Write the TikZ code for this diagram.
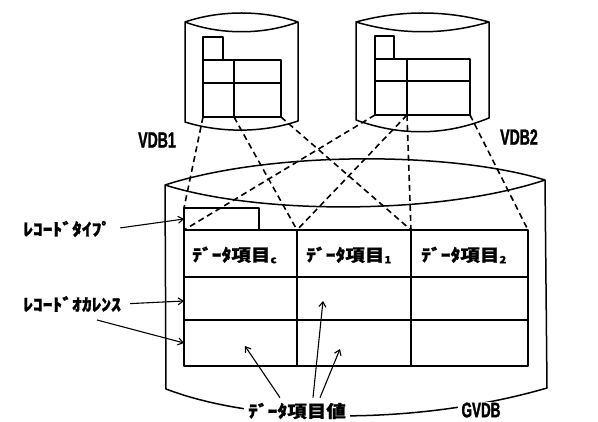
\documentclass[tikz,border=0pt]{standalone}
\usepackage{fontspec}
\newfontfamily\jpfont{Noto Sans CJK JP}[FakeStretch=1.15, FakeBold=1]
\newfontfamily\enfont{Liberation Sans}[FakeStretch=0.64, FakeBold=1.5]
\newcommand\sbs[1]{\raisebox{-2pt}{\fontsize{10}{10}\selectfont #1}}
\usetikzlibrary{arrows.meta}

\begin{document}
\begin{tikzpicture}[x=1pt, y=-1pt,
		db/.style = {line width=1.5pt, line join=round},
		ln/.style = {line width=1.6pt, dash pattern=on 6pt off 4pt},
		ar/.style = {-{Straight Barb[length=5pt, width=7pt]}, line width=1.1pt},
		jp/.style = {font=\jpfont\bfseries\fontsize{17}{17}\selectfont, inner sep=1pt},
		en/.style = {font=\enfont\bfseries\fontsize{22}{22}\selectfont, inner sep=1pt}
		]
		\useasboundingbox (0,0) rectangle (598,422);
		
		%Cylinders
		\draw[db]	(185,22) .. controls (220,10) and (263,10) .. (298,22)
					.. controls (263,35) and (220,35) .. (185,22) -- (185,122)
					.. controls (220,133) and (263,133) .. (298,121) -- (298,22);
		\draw[db]	(356,22) .. controls (400,10) and (445,10) .. (489,22)
					.. controls (445,35) and (400,35) .. (356,22) -- (356,120)
					.. controls (400,136) and (445,136) .. (489,118) -- (489,22);
		\draw[db]	(165,185) .. controls (270,151) and (450,151) .. (545,180)
					.. controls (440,215) and (260,215) .. (165,185) -- (166,389)
					.. controls (260,425) and (420,425) .. (547,388) -- (545,180);
		
		%Tables
		\draw[db]	(203,37) rectangle (223,60);
		\draw[db]	(203,60) rectangle (281,117);
		\draw[db]	(203,83) -- (281,83);
		\draw[db]	(234,60) -- (234,117);
		\draw[db]	(375,36) rectangle (394,59);
		\draw[db]	(375,59) rectangle (470,115);
		\draw[db]	(375,81) -- (470,81);
		\draw[db]	(407,59) -- (407,115);
		\draw[db]	(184,208) rectangle (259,230);
		\draw[db]	(184,230) rectangle (528,366);
		\foreach \y in {277,320}
			\draw[db]	(184,\y) -- (528,\y);
		\foreach \x in {297,411}
			\draw[db]	(\x,230) -- (\x,366);
		
		%Coordinates
		\coordinate	(v1a)	at	(203,117);
		\coordinate	(v1b)	at	(234,117);
		\coordinate	(v1c)	at	(281,117);
		\coordinate	(v2a)	at	(375,115);
		\coordinate	(v2b)	at	(407,115);
		\coordinate	(v2c)	at	(470,115);
		\coordinate	(gt)	at	(184,208);
		\coordinate	(g0)	at	(184,230);
		\coordinate	(g1)	at	(297,230);
		\coordinate	(g2)	at	(411,230);
		\coordinate	(g3)	at	(528,230);
		\coordinate	(tp)	at	(184,219);
		\coordinate	(oc1)	at	(184,301);
		\coordinate	(oc2)	at	(184,343);
		\coordinate	(ro)	at	(97,320);
		\coordinate	(d1)	at	(245,346);
		\coordinate	(d2)	at	(323,301);
		\coordinate	(d3)	at	(340,349);
		
		%Nodes
		\node[en]	(vdb1)	at	(157,140)	{VDB1};
		\node[en]	(vdb2)	at	(519,137)	{VDB2};
		\node[jp, anchor=west]	(h0)	at	(191,255)	{ﾃﾞｰﾀ項目\sbs{c}};
		\node[jp, anchor=west]	(h1)	at	(305,255)	{ﾃﾞｰﾀ項目\sbs{1}};
		\node[jp, anchor=west]	(h2)	at	(420,255)	{ﾃﾞｰﾀ項目\sbs{2}};
		\node[jp, anchor=west]	(rtype)	at	(22,229)	{ﾚｺｰﾄﾞﾀｲﾌﾟ};
		\node[jp, anchor=west]	(rocc)	at	(22,304)	{ﾚｺｰﾄﾞｵｶﾚﾝｽ};
		\node[jp, fill=white, inner xsep=4pt]	(dval)	at	(297,411)	{ﾃﾞｰﾀ項目値};
		\node[en, fill=white, inner xsep=4pt, font=\enfont\bfseries\fontsize{21}{21}\selectfont]	(gvdb)	at	(481,410)	{GVDB};
		
		%Lines
		\draw[ln]	(v1a)	--	(gt);
		\draw[ln]	(v1b)	--	(g1);
		\draw[ln]	(v1c)	--	(g2);
		\draw[ln]	(v2a)	--	(g0);
		\draw[ln]	(v2b)	--	(g1);
		\draw[ln]	(v2b)	--	(g2);
		\draw[ln]	(v2c)	--	(g3);
		\draw[ar, shorten <=8pt]	(rtype.east)	--	(tp);
		\draw[ar, shorten <=8pt]	(rocc.east)	--	(oc1);
		\draw[ar]	(ro)	--	(oc2);
		\draw[ar]	([xshift=-17pt, yshift=4pt]dval.north)	--	(d1);
		\draw[ar]	([xshift=16pt, yshift=4pt]dval.north)	--	(d2);
		\draw[ar]	([xshift=23pt, yshift=4pt]dval.north)	--	(d3);
	\end{tikzpicture}
\end{document}
